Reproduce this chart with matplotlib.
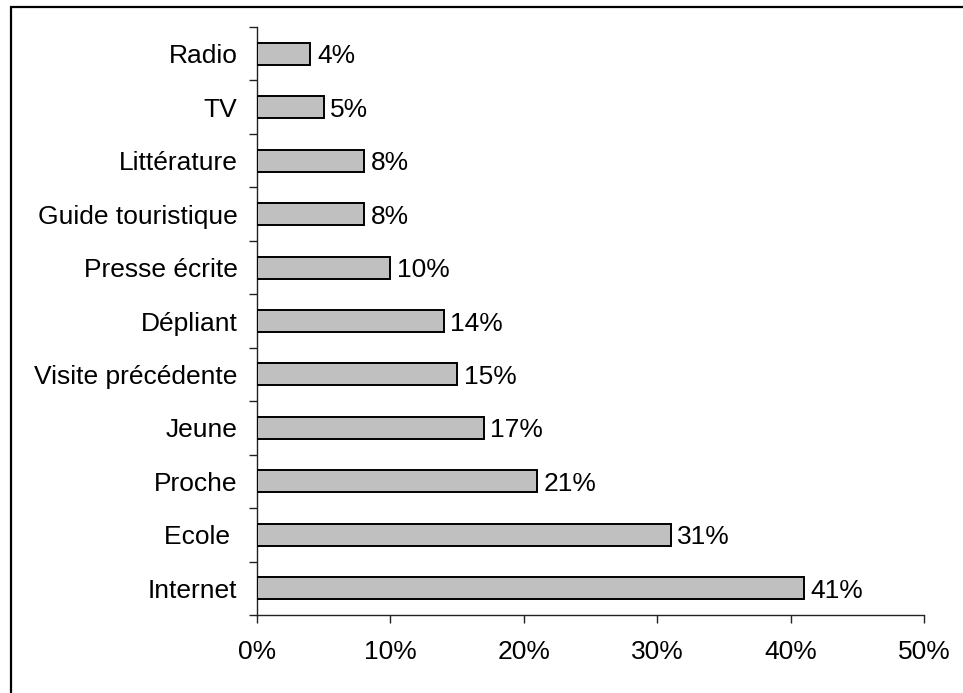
import matplotlib
matplotlib.use("Agg")
import matplotlib.pyplot as plt
import numpy as np
from matplotlib.patches import Rectangle

plt.rcParams['font.family'] = ['Liberation Sans', 'DejaVu Sans']

categories = ["Internet", "Ecole ", "Proche", "Jeune", "Visite précédente", "Dépliant",
              "Presse écrite", "Guide touristique", "Littérature", "TV", "Radio"]
values = [41, 31, 21, 17, 15, 14, 10, 8, 8, 5, 4]
xticks = [0, 10, 20, 30, 40, 50]
xtick_labels = ["0%", "10%", "20%", "30%", "40%", "50%"]

FS = 19
W, H = 963, 693
fig = plt.figure(figsize=(W / 100, H / 100), dpi=100)
fig.patch.set_facecolor('white')

# outer border (right and bottom edges cropped in reference)
fig.patches.append(Rectangle((11 / W, -0.1), 1.2, 1.1 - 7 / H, transform=fig.transFigure,
                             fill=False, edgecolor='black', linewidth=1.6))

left, right = 257 / W, 924 / W
bottom, top = 1 - 615 / H, 1 - 27 / H
ax = fig.add_axes([left, bottom, right - left, top - bottom])

y = np.arange(len(categories))
ax.barh(y, values, height=0.41, color='#c0c0c0', edgecolor='black', linewidth=1.4, zorder=3)

for yi, v in zip(y, values):
    ax.text(v + 0.5, yi, f"{v}%", va='center_baseline', ha='left', fontsize=FS, color='black')

ax.set_xlim(0, 50)
ax.set_ylim(-0.5, len(categories) - 0.5)

ax.set_xticks(xticks)
ax.set_xticklabels(xtick_labels, fontsize=FS)
ax.set_yticks(np.arange(-0.5, len(categories), 1.0))
ax.set_yticklabels([])
ax.set_yticks(y, minor=True)
ax.set_yticklabels(categories, minor=True, fontsize=FS, va='center_baseline')

ax.tick_params(axis='y', which='major', direction='out', length=6, width=1, color='#222222')
ax.tick_params(axis='y', which='minor', length=0, pad=14)
ax.tick_params(axis='x', which='major', direction='out', length=6, width=1, color='#222222', pad=12)

for s in ['top', 'right']:
    ax.spines[s].set_visible(False)
for s in ['left', 'bottom']:
    ax.spines[s].set_linewidth(1)
    ax.spines[s].set_color('#222222')

fig.savefig("out.png", dpi=100)
